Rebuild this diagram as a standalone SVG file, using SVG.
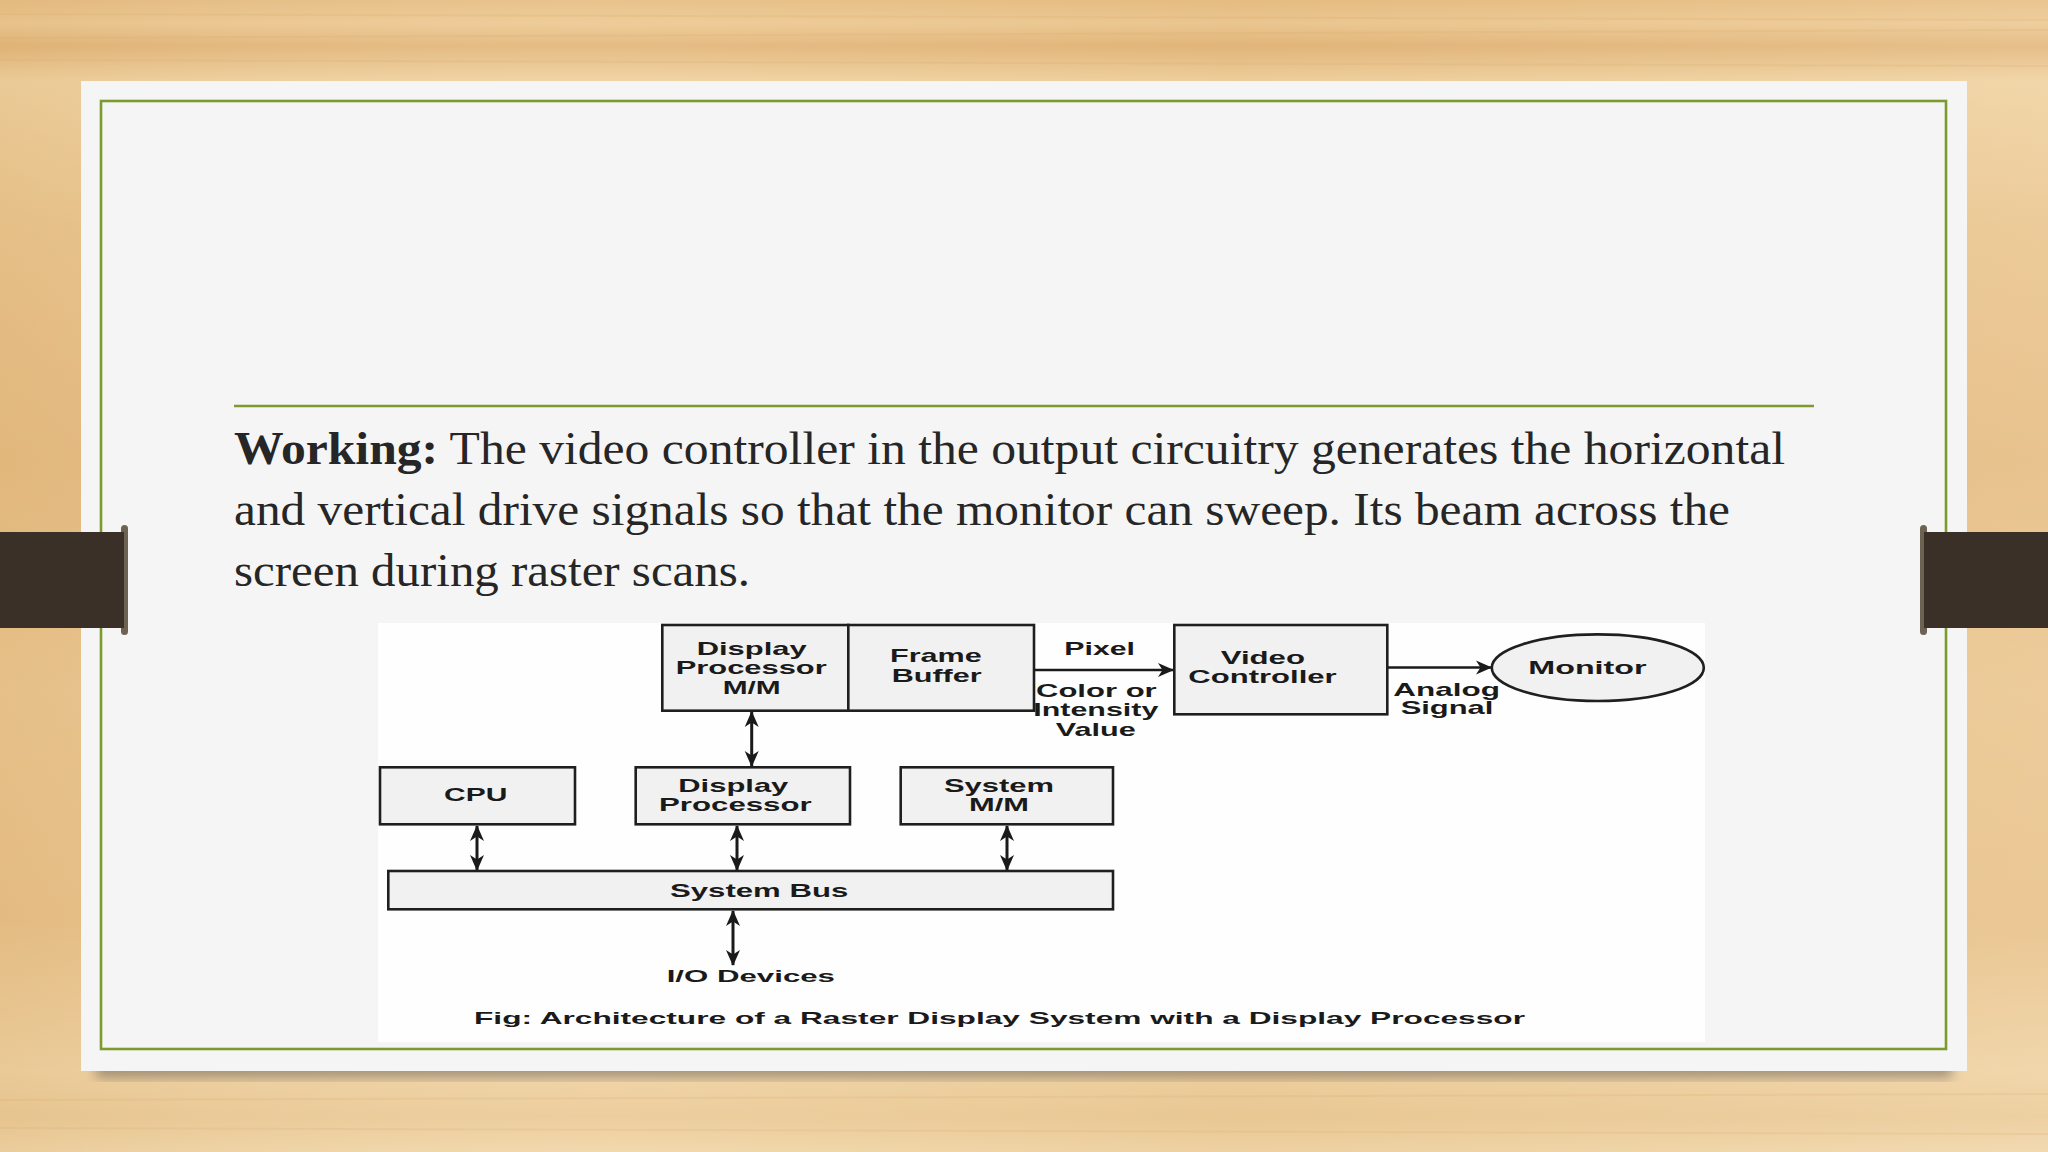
<svg xmlns="http://www.w3.org/2000/svg" width="2048" height="1152" viewBox="0 0 2048 1152">
  <defs>
    <linearGradient id="wood" x1="0" y1="0" x2="0" y2="1">
      <stop offset="0" stop-color="#E7BE84"/>
      <stop offset="0.02" stop-color="#EDC993"/>
      <stop offset="0.04" stop-color="#E3B77C"/>
      <stop offset="0.07" stop-color="#F0D2A0"/>
      <stop offset="0.2" stop-color="#EAC58E"/>
      <stop offset="0.4" stop-color="#E5BC82"/>
      <stop offset="0.6" stop-color="#EBC690"/>
      <stop offset="0.8" stop-color="#E8C189"/>
      <stop offset="0.93" stop-color="#EFD2A2"/>
      <stop offset="0.97" stop-color="#EBCB98"/>
      <stop offset="1" stop-color="#F1D6A8"/>
    </linearGradient>
    <linearGradient id="woodx" x1="0" y1="0" x2="1" y2="0">
      <stop offset="0" stop-color="#C99A5A" stop-opacity="0.15"/>
      <stop offset="0.3" stop-color="#FFFFFF" stop-opacity="0.06"/>
      <stop offset="0.6" stop-color="#C99A5A" stop-opacity="0.08"/>
      <stop offset="1" stop-color="#FFFFFF" stop-opacity="0.1"/>
    </linearGradient>
    <filter id="shadow" x="-5%" y="-5%" width="110%" height="115%">
      <feGaussianBlur stdDeviation="6"/>
    </filter>
    <marker id="ah" markerUnits="userSpaceOnUse" markerWidth="16" markerHeight="16" refX="15" refY="8" orient="auto-start-reverse" viewBox="0 0 16 16">
      <path d="M0,1 L16,8 L0,15 L4.5,8 z" fill="#1a1a1a"/>
    </marker>
    <style>
      .box { fill: #F1F1F1; stroke: #1f1f1f; stroke-width: 2.6; }
      .conn { stroke: #1a1a1a; stroke-width: 3; fill: none; }
      .hconn { stroke: #1a1a1a; stroke-width: 2.4; fill: none; }
      .lbl { font-family: "Liberation Sans", Arial, sans-serif; font-weight: bold; font-size: 19px; fill: #1a1a1a; }
      .cap { font-family: "Liberation Sans", Arial, sans-serif; font-weight: bold; font-size: 16.5px; fill: #1a1a1a; }
      .body { font-family: "Liberation Serif", "Times New Roman", serif; font-size: 46px; fill: #262626; }
      .green { stroke: #7E9A2E; fill: none; }
      .clip { fill: #3B3027; }
      .clipcap { fill: #6E6353; }
    </style>
  </defs>

  <!-- background -->
  <rect x="0" y="0" width="2048" height="1152" fill="url(#wood)"/>
  <rect x="0" y="0" width="2048" height="1152" fill="url(#woodx)"/>
  <g stroke="#D9A865" stroke-opacity="0.18" stroke-width="2">
    <line x1="0" y1="14" x2="2048" y2="20"/>
    <line x1="0" y1="38" x2="2048" y2="30"/>
    <line x1="0" y1="60" x2="2048" y2="66"/>
    <line x1="0" y1="1100" x2="2048" y2="1094"/>
    <line x1="0" y1="1128" x2="2048" y2="1134"/>
  </g>

  <!-- card shadow and card -->
  <rect x="96" y="1040" width="1856" height="38" fill="#6b6157" opacity="0.55" filter="url(#shadow)"/>
  <rect x="81" y="81" width="1886" height="990" fill="#F5F5F5"/>
  <rect x="101" y="101" width="1845" height="948" class="green" stroke-width="2.6"/>
  <line x1="234" y1="406" x2="1814" y2="406" class="green" stroke-width="2.6"/>

  <!-- binder clips -->
  <g id="clip-left">
    <rect x="121" y="525" width="7" height="110" rx="3.5" class="clipcap"/>
    <rect x="0" y="532" width="124" height="96" class="clip"/>
  </g>
  <g id="clip-right">
    <rect x="1920" y="525" width="7" height="110" rx="3.5" class="clipcap"/>
    <rect x="1924" y="532" width="124" height="96" class="clip"/>
  </g>

  <!-- body text -->
  <g id="body-text">
    <text class="body" x="234" y="464" textLength="1551" lengthAdjust="spacingAndGlyphs"><tspan font-weight="bold">Working:</tspan> The video controller in the output circuitry generates the horizontal</text>
    <text class="body" x="234" y="525" textLength="1496" lengthAdjust="spacingAndGlyphs">and vertical drive signals so that the monitor can sweep. Its beam across the</text>
    <text class="body" x="234" y="586" textLength="516" lengthAdjust="spacingAndGlyphs">screen during raster scans.</text>
  </g>

  <!-- diagram -->
  <rect x="378" y="623" width="1327" height="419" fill="#FEFEFE"/>

  <g id="connectors">
    <line class="conn" x1="751.7" y1="712" x2="751.7" y2="766" marker-start="url(#ah)" marker-end="url(#ah)"/>
    <line class="conn" x1="477" y1="826" x2="477" y2="870" marker-start="url(#ah)" marker-end="url(#ah)"/>
    <line class="conn" x1="737" y1="826" x2="737" y2="870" marker-start="url(#ah)" marker-end="url(#ah)"/>
    <line class="conn" x1="1007" y1="826" x2="1007" y2="870" marker-start="url(#ah)" marker-end="url(#ah)"/>
    <line class="conn" x1="733" y1="911" x2="733" y2="965" marker-start="url(#ah)" marker-end="url(#ah)"/>
    <line class="hconn" x1="1034" y1="670" x2="1173" y2="670" marker-end="url(#ah)"/>
    <line class="hconn" x1="1387" y1="667.5" x2="1491" y2="667.5" marker-end="url(#ah)"/>
  </g>

  <g id="node-dp-mm">
    <rect class="box" x="662.3" y="625" width="186" height="85.7"/>
    <text class="lbl" x="696.7" y="655" textLength="110" lengthAdjust="spacingAndGlyphs">Display</text>
    <text class="lbl" x="675.7" y="674.3" textLength="151" lengthAdjust="spacingAndGlyphs">Processor</text>
    <text class="lbl" x="722.7" y="694" textLength="58" lengthAdjust="spacingAndGlyphs">M/M</text>
  </g>
  <g id="node-frame-buffer">
    <rect class="box" x="848.3" y="625" width="185.7" height="85.7"/>
    <text class="lbl" x="890" y="662.3" textLength="91.7" lengthAdjust="spacingAndGlyphs">Frame</text>
    <text class="lbl" x="891.7" y="681.7" textLength="90" lengthAdjust="spacingAndGlyphs">Buffer</text>
  </g>
  <g id="label-pixel">
    <text class="lbl" x="1064.3" y="655" textLength="70.7" lengthAdjust="spacingAndGlyphs">Pixel</text>
    <text class="lbl" x="1036" y="696.7" textLength="120.7" lengthAdjust="spacingAndGlyphs">Color or</text>
    <text class="lbl" x="1033.3" y="715.5" textLength="125" lengthAdjust="spacingAndGlyphs">Intensity</text>
    <text class="lbl" x="1055.7" y="735.7" textLength="80" lengthAdjust="spacingAndGlyphs">Value</text>
  </g>
  <g id="node-video-controller">
    <rect class="box" x="1174.3" y="625" width="213" height="89.3"/>
    <text class="lbl" x="1220.7" y="664" textLength="84.3" lengthAdjust="spacingAndGlyphs">Video</text>
    <text class="lbl" x="1188.3" y="683.3" textLength="148.3" lengthAdjust="spacingAndGlyphs">Controller</text>
  </g>
  <g id="label-analog">
    <text class="lbl" x="1393.3" y="695.5" textLength="106.7" lengthAdjust="spacingAndGlyphs">Analog</text>
    <text class="lbl" x="1400.7" y="714" textLength="92.7" lengthAdjust="spacingAndGlyphs">Signal</text>
  </g>
  <g id="node-monitor">
    <ellipse class="box" cx="1597.8" cy="667.7" rx="106" ry="33.3"/>
    <text class="lbl" x="1528.3" y="674" textLength="118.3" lengthAdjust="spacingAndGlyphs">Monitor</text>
  </g>
  <g id="node-cpu">
    <rect class="box" x="380" y="767.3" width="195" height="57"/>
    <text class="lbl" x="444" y="801" textLength="63.3" lengthAdjust="spacingAndGlyphs">CPU</text>
  </g>
  <g id="node-display-processor">
    <rect class="box" x="635.7" y="767.3" width="214.3" height="57"/>
    <text class="lbl" x="678.3" y="791.7" textLength="110" lengthAdjust="spacingAndGlyphs">Display</text>
    <text class="lbl" x="659" y="811" textLength="152.7" lengthAdjust="spacingAndGlyphs">Processor</text>
  </g>
  <g id="node-system-mm">
    <rect class="box" x="900.7" y="767.3" width="212.3" height="57"/>
    <text class="lbl" x="944" y="791.7" textLength="110" lengthAdjust="spacingAndGlyphs">System</text>
    <text class="lbl" x="969" y="811" textLength="60" lengthAdjust="spacingAndGlyphs">M/M</text>
  </g>
  <g id="node-system-bus">
    <rect class="box" x="388.3" y="871" width="724.7" height="38.3"/>
    <text class="lbl" x="670" y="897.3" textLength="178.3" lengthAdjust="spacingAndGlyphs">System Bus</text>
  </g>
  <g id="node-io">
    <text class="cap" x="666.7" y="982.3" textLength="168.3" lengthAdjust="spacingAndGlyphs" font-size="17">I/O Devices</text>
  </g>
  <g id="caption">
    <text class="cap" x="474" y="1024" textLength="1051" lengthAdjust="spacingAndGlyphs">Fig: Architecture of a Raster Display System with a Display Processor</text>
  </g>
</svg>
